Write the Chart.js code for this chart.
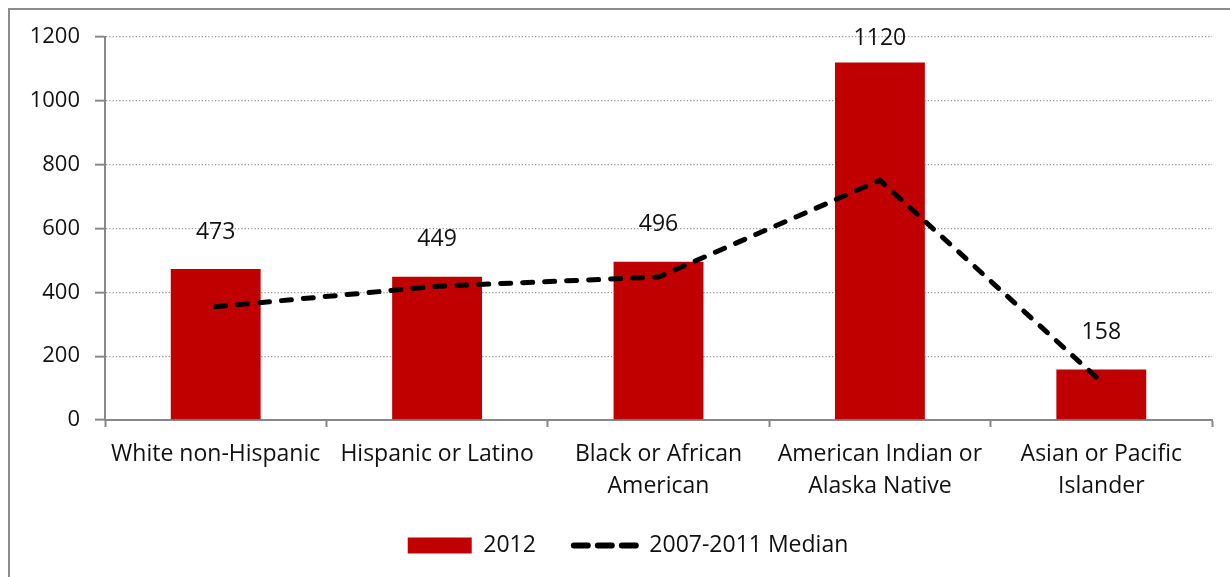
<!DOCTYPE html>
<html>
<head>
<meta charset="utf-8">
<script src="https://cdn.jsdelivr.net/npm/chart.js@4"></script>
<style>
  body { margin: 0; background: #fff; }
  #frame { position: absolute; left: 8px; top: 8px; width: 1230px; height: 600px; border: 2px solid #8c8c8c; box-sizing: border-box; }
  #wrap { position: absolute; left: 0; top: 0; width: 1230px; height: 577px; }
</style>
</head>
<body>
<div id="frame"></div>
<div id="wrap"><canvas id="chart" width="1230" height="577"></canvas></div>
<script>
// chart data
const categories = [
  "White non-Hispanic",
  "Hispanic or Latino",
  ["Black or African", "American"],
  ["American Indian or", "Alaska Native"],
  ["Asian or Pacific", "Islander"]
];
const values2012 = [473, 449, 496, 1120, 158];
const median0711 = [355, 419, 448, 751, 120];
const yTicks = [0, 200, 400, 600, 800, 1000, 1200];

const FONT = "'Open Sans', sans-serif";
const RED = "#c00000";

// value labels above the bars
const barLabels = {
  id: "barLabels",
  afterDatasetsDraw(chart) {
    const ctx = chart.ctx;
    const meta = chart.getDatasetMeta(0);
    ctx.save();
    ctx.font = "23px " + FONT;
    ctx.fillStyle = "#111";
    ctx.textAlign = "center";
    ctx.textBaseline = "middle";
    meta.data.forEach((bar, i) => {
      const y = Math.max(bar.y - 37, chart.chartArea.top + 1);
      ctx.fillText(String(values2012[i]), bar.x, y);
    });
    ctx.restore();
  }
};

// nudge the legend a little right, like the original
const legendShift = {
  id: "legendShift",
  afterLayout(chart) {
    chart.legend.left += 22;
    chart.legend.right += 22;
  }
};

new Chart(document.getElementById("chart"), {
  type: "bar",
  data: {
    labels: categories,
    datasets: [
      {
        label: "2012",
        data: values2012,
        backgroundColor: RED,
        barPercentage: 0.406,
        categoryPercentage: 1,
        order: 1
      },
      {
        type: "line",
        label: "2007-2011 Median",
        data: median0711,
        borderColor: "#000",
        borderWidth: 5,
        borderDash: [10, 12],
        borderCapStyle: "round",
        pointRadius: 0,
        tension: 0,
        fill: false,
        order: 0
      }
    ]
  },
  options: {
    responsive: false,
    animation: false,
    devicePixelRatio: 1,
    layout: { padding: { left: 0, right: 18, top: 37, bottom: 10 } },
    scales: {
      x: {
        offset: true,
        grid: {
          offset: true,
          drawOnChartArea: false,
          drawTicks: true,
          tickLength: 7,
          tickColor: "#888",
          tickWidth: 2
        },
        border: { color: "#888", width: 2 },
        ticks: {
          color: "#111",
          font: { family: FONT, size: 23, lineHeight: 1.4 },
          padding: 11,
          maxRotation: 0,
          autoSkip: false
        },
        afterFit(scale) { scale.height = 76; }
      },
      y: {
        min: 0,
        max: 1200,
        afterBuildTicks(scale) { scale.ticks = yTicks.map(v => ({ value: v })); },
        grid: {
          color: "#999",
          lineWidth: 1.3,
          tickLength: 10,
          tickColor: "#888",
          tickWidth: 2,
          tickBorderDash: []
        },
        border: { color: "#888", width: 2, dash: [1.3, 2] },
        ticks: {
          color: "#111",
          font: { family: FONT, size: 22 },
          padding: 15,
          callback: v => String(v)
        },
        afterFit(scale) { scale.width = 105; }
      }
    },
    plugins: {
      tooltip: { enabled: false },
      legend: {
        position: "bottom",
        reverse: true,
        labels: {
          usePointStyle: true,
          pointStyleWidth: 64,
          boxHeight: 16,
          padding: 38,
          color: "#111",
          font: { family: FONT, size: 23 },
          generateLabels() {
            return [
              { text: "2012", datasetIndex: 0, pointStyle: "rect", fillStyle: RED, strokeStyle: RED, lineWidth: 0, fontColor: "#111" },
              { text: "2007-2011 Median", datasetIndex: 1, pointStyle: "line", fillStyle: "#000", strokeStyle: "#000", lineWidth: 6, lineDash: [14, 10], lineCap: "round", fontColor: "#111" }
            ].reverse();
          }
        }
      }
    }
  },
  plugins: [barLabels, legendShift]
});
</script>
</body>
</html>
